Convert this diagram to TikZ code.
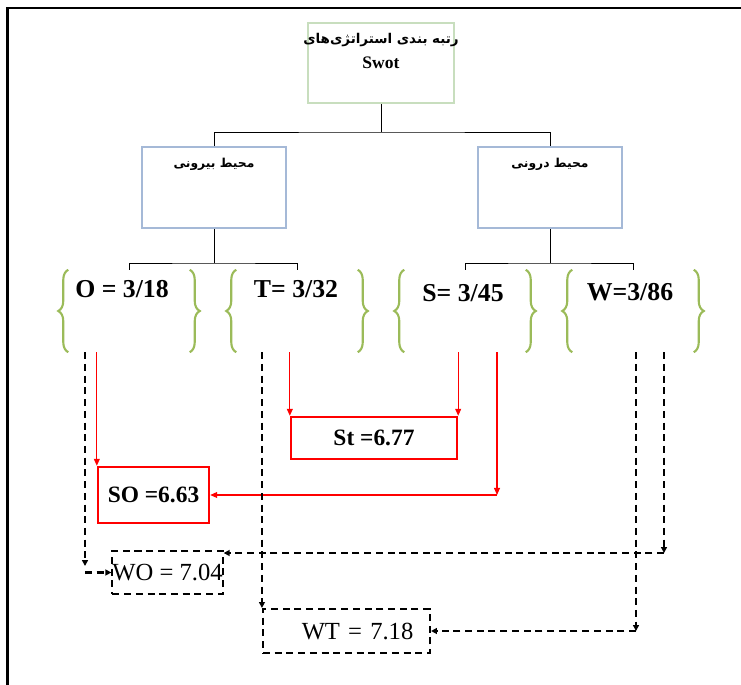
\documentclass[tikz,border=0pt]{standalone}
\usepackage{fontspec}
\setmainfont{Liberation Serif}
\newfontfamily\fafont[Script=Arabic]{DejaVu Sans}
\TeXXeTstate=1
\usetikzlibrary{arrows.meta,decorations.pathreplacing}

\definecolor{boxgreen}{RGB}{200,222,190}
\definecolor{boxblue}{RGB}{165,185,215}
\definecolor{bracegreen}{RGB}{155,187,89}

\begin{document}
\begin{tikzpicture}[x=0.03cm,y=-0.03cm,
	topbox/.style={draw=boxgreen,line width=1.6pt,minimum width=4.38cm,minimum height=2.4cm,inner sep=0pt},
	envbox/.style={draw=boxblue,line width=1.6pt,minimum width=4.32cm,minimum height=2.43cm,inner sep=0pt},
	fatext/.style={font=\fafont\bfseries\fontsize{10.5}{13}\selectfont},
	grp/.style={minimum width=3.63cm,minimum height=2.46cm,inner sep=0pt},
	brc/.style={draw=bracegreen,line width=1.8pt,decorate,decoration={brace,amplitude=0.3cm}},
	val/.style={font=\bfseries\fontsize{22}{26}\selectfont},
	redbox/.style={draw=red,line width=2pt,inner sep=0pt,font=\bfseries\fontsize{20}{24}\selectfont},
	dashbox/.style={draw,line width=1.8pt,dash pattern=on 6pt off 4pt,inner sep=0pt,font=\fontsize{21}{25}\selectfont},
	tree/.style={line width=0.8pt},
	redarr/.style={red,line width=1.1pt,-{Triangle[length=6pt,width=5pt]}},
	dasharr/.style={line width=1.8pt,dash pattern=on 6pt off 4pt,-{Triangle[length=5pt,width=5pt]}}]
	\useasboundingbox (0,0) rectangle (741,685);
	\draw[line width=2.2pt] (7.5,685) -- (7.5,8) -- (741,8);
	
	% boxes of the tree
	\node[topbox] (top) at (381,63) {};
	\node[fatext,font=\fafont\bfseries\fontsize{11.5}{14}\selectfont] (topT) at (381,40) {\beginR رتبه بندی استراتژی‌های\endR};
	\node[font=\bfseries\fontsize{15}{18}\selectfont] (swot) at (381,63) {Swot};
	\node[envbox] (ext) at (214,187.5) {};
	\node[fatext] (extT) at (214,164) {\beginR محیط بیرونی\endR};
	\node[envbox] (int) at (550,187.5) {};
	\node[fatext] (intT) at (550,164) {\beginR محیط درونی\endR};
	
	% groups in braces
	\node[grp] (gO) at (129,311) {};
	\node[grp] (gT) at (297,311) {};
	\node[grp] (gS) at (465,311) {};
	\node[grp] (gW) at (633,311) {};
	\foreach \g in {gO,gT,gS,gW}{
		\draw[brc] (\g.south west) -- (\g.north west);
		\draw[brc] (\g.north east) -- (\g.south east);
	}
	\node[val] (O) at (122,289) {O = 3/18};
	\node[val] (T) at (296,289) {T= 3/32};
	\node[val] (S) at (463,293) {S= 3/45};
	\node[val] (W) at (630,292) {W=3/86};
	
	% strategies
	\node[redbox,minimum width=4.98cm,minimum height=1.26cm] (St) at (374,438) {St =6.77};
	\node[redbox,minimum width=3.33cm,minimum height=1.68cm] (SO) at (153.5,495) {SO =6.63};
	\node[dashbox,minimum width=3.27cm,minimum height=1.29cm] (WO) at (167.5,572.5) {WO = 7.04};
	\node[dashbox,minimum height=1.32cm,text width=4.01cm,inner xsep=0.5cm,align=right] (WT) at (346.5,631) {WT = 7.18};
	
	\coordinate (j0) at (381,132);
	\coordinate (jE) at (214,263);
	\coordinate (jI) at (550,263);
	\coordinate (cS) at (497,495);
	\coordinate (cO) at (85,566);
	\coordinate (cW1) at (664,553);
	\coordinate (cW2) at (636,631);
	
	\draw[tree] (top) -- (j0);
	\draw[tree] (ext.north) |- (j0) -| (int.north);
	\draw[tree] (ext) -- (jE);
	\draw[tree] (int) -- (jI);
	\draw[tree] (gO.north) |- (jE) -| (gT.north);
	\draw[tree] (gS.north) |- (jI) -| (gW.north);
	
	\draw[redarr] (gO.south -| SO.north west) -- (SO.north west);
	\draw[redarr] (gT.south -| St.north west) -- (St.north west);
	\draw[redarr] (gS.south -| St.north east) -- (St.north east);
	\draw[redarr] (gS.south -| cS) -- (cS);
	\draw[redarr] (cS) -- (SO.east);
	
	\draw[dasharr] (gO.south -| cO) -- (cO);
	\draw[dasharr] (cO |- WO.west) -- (WO.west);
	\draw[dasharr] (gT.south -| WT.north west) -- (WT.north west);
	\draw[dasharr] (gW.south -| cW1) -- (cW1);
	\draw[dasharr] (cW1) -- (cW1 -| WO.east);
	\draw[dasharr] (gW.south -| cW2) -- (cW2);
	\draw[dasharr] (cW2) -- (WT.east);
\end{tikzpicture}
\end{document}
